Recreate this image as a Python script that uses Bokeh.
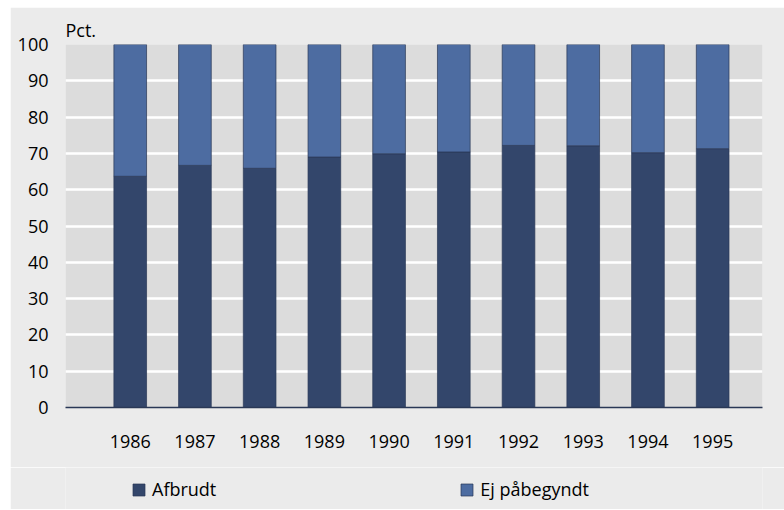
from bokeh.plotting import figure
from bokeh.models import Range1d, Legend, LegendItem, Title, FixedTicker, ColumnDataSource, Spacer
from bokeh.layouts import row, column
from bokeh.embed import file_html
from bokeh.resources import INLINE

years = ["1986", "1987", "1988", "1989", "1990", "1991", "1992", "1993", "1994", "1995"]
afbrudt = [63.7, 66.7, 65.9, 69.0, 69.9, 70.4, 72.2, 72.1, 70.2, 71.3]
ej_paabegyndt = [round(100 - v, 1) for v in afbrudt]
y_ticks = [0, 10, 20, 30, 40, 50, 60, 70, 80, 90, 100]
series_names = ["Afbrudt", "Ej påbegyndt"]
colors = ["#33466b", "#4d6ca1"]

FONT = "Open Sans"
FS = "18px"
BG = "#ebebeb"
xs = list(range(len(years)))
src = ColumnDataSource(dict(x=xs, afbrudt=afbrudt, ej=ej_paabegyndt))

p = figure(width=774, height=460, output_backend="svg", toolbar_location=None,
           x_range=Range1d(-1.0, 9.77), y_range=Range1d(0, 100),
           min_border_left=55, min_border_right=22, min_border_top=37, min_border_bottom=60)
p.background_fill_color = "#dcdcdc"
p.border_fill_color = BG
p.outline_line_color = None

r = p.vbar_stack(["afbrudt", "ej"], x="x", width=0.505, source=src,
                 color=colors, line_color="#2a3856", line_alpha=0.7, line_width=1)

p.xgrid.grid_line_color = None
p.ygrid.grid_line_color = "white"
p.ygrid.grid_line_width = 2.5
p.ygrid.ticker = FixedTicker(ticks=y_ticks)

p.yaxis.ticker = FixedTicker(ticks=y_ticks)
p.yaxis.axis_line_color = None
p.yaxis.major_tick_line_color = None
p.yaxis.minor_tick_line_color = None
p.yaxis.major_label_standoff = 11
p.yaxis.major_label_text_font = FONT
p.yaxis.major_label_text_font_size = FS
p.yaxis.major_label_text_color = "black"

p.xaxis.ticker = FixedTicker(ticks=xs)
p.xaxis.major_label_overrides = {i: y for i, y in enumerate(years)}
p.xaxis.axis_line_color = "#2a3856"
p.xaxis.axis_line_width = 1.5
p.xaxis.major_tick_line_color = None
p.xaxis.minor_tick_line_color = None
p.xaxis.major_label_standoff = 21
p.xaxis.major_label_text_font = FONT
p.xaxis.major_label_text_font_size = FS
p.xaxis.major_label_text_color = "black"

p.add_layout(Title(text="Pct.", align="left", text_font=FONT, text_font_size=FS,
                   text_font_style="normal", text_color="black", standoff=6), "above")

# legend strip: same series drawn outside its view so only the legend shows
lf = figure(width=774, height=42, output_backend="svg", toolbar_location=None,
            x_range=Range1d(-1.0, 9.77), y_range=Range1d(500, 501),
            min_border_left=0, min_border_right=0, min_border_top=0, min_border_bottom=0)
lf.axis.visible = False
lf.grid.visible = False
lf.background_fill_color = BG
lf.border_fill_color = BG
lf.outline_line_color = None
lr = lf.vbar_stack(["afbrudt", "ej"], x="x", width=0.505, source=src,
                   color=colors, line_color="#2a3856", line_alpha=0.7, line_width=1)
legend = Legend(items=[LegendItem(label=n, renderers=[g]) for n, g in zip(series_names, lr)],
                orientation="horizontal", location=(66, 8),
                spacing=243, glyph_width=15, glyph_height=15, label_standoff=6,
                label_height=15, label_text_font=FONT, label_text_font_size=FS,
                label_text_color="black", background_fill_alpha=0,
                border_line_color=None, margin=0, padding=0)
lf.add_layout(legend, "center")

layout = row(Spacer(width=10, height=509),
             column(Spacer(width=774, height=7), p, lf, spacing=0), spacing=0)
open("out.html", "w").write(file_html(layout, INLINE))
